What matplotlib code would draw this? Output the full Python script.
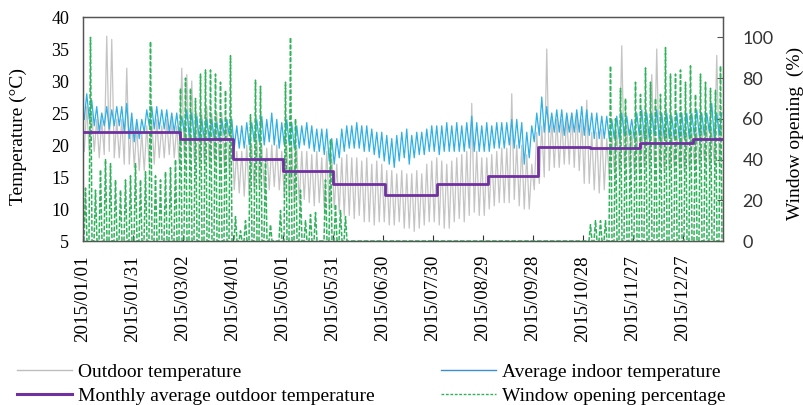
import numpy as np
import matplotlib
matplotlib.use("Agg")
import matplotlib.pyplot as plt
from matplotlib.lines import Line2D

# ---------------- data (one value pair per 3-day segment) -------------
seg_days = 3
out_hi = [26, 25, 24, 24, 37, 36.5, 24, 24, 32, 24,
          23, 22, 23, 24, 24, 23, 24, 24, 23, 32,
          31, 30, 25, 25, 26, 25, 25, 25, 24, 24,
          19, 19, 20, 20, 21, 20, 19.5, 20, 20, 19,
          20, 20, 19.5, 19, 19, 18.5, 19, 18, 19, 18.5,
          17, 18, 18.5, 18, 18, 17.5, 18, 17, 17.5, 17,
          16, 16, 15.5, 16, 15.5, 15.5, 16, 15.5, 17, 17.5,
          18, 17.5, 17, 17.5, 18, 18.5, 19, 26.5, 19, 18,
          18, 18.5, 19, 19.5, 19.5, 28, 20, 20, 18.5, 17,
          22, 23, 35, 24, 24, 24, 24.5, 25, 25, 24,
          27, 22, 22, 22.5, 21, 22, 22, 35.5, 23, 22,
          22, 22.5, 23, 31, 35, 23, 22.5, 22, 22, 22.5,
          22, 22.5, 22, 23, 23, 22.5, 34, 23]
out_lo = [19, 19, 19, 18, 18.5, 19, 18, 18, 17, 17,
          16.5, 16, 16, 17, 17, 18, 18, 18.5, 18, 17,
          18, 18, 17.5, 17, 17, 17, 17.5, 17, 16.5, 16,
          13, 12.5, 12, 12, 13, 13.5, 13, 13, 13.5, 13,
          12, 11.5, 11, 11, 11.5, 11, 10.5, 11, 10, 10,
          10, 9.5, 9, 9, 8.5, 9, 8, 8, 7.5, 8,
          8, 7.5, 7.5, 8, 7, 7, 6.5, 7, 7.5, 8,
          8, 7.5, 7, 7, 8, 8.5, 8, 9, 9.5, 9,
          9, 10, 10.5, 11, 11, 11, 11.5, 10.5, 10, 10,
          13, 14, 15, 16, 16.5, 16.5, 17, 17, 16.5, 16,
          14, 14, 13, 12.5, 13, 15, 16, 16, 16.5, 16.5,
          16, 16, 16.5, 16.5, 17, 16.5, 16, 16, 16.5, 16.5,
          16, 16.5, 17, 17, 17.5, 17, 17, 17]
in_hi = [28, 27, 26, 25, 26, 25.5, 26, 26, 26.5, 25,
         24, 24, 25.5, 26, 26, 25.5, 25.5, 25, 25, 24.5,
         25.5, 25, 24.5, 24, 24, 24, 23.5, 24, 24, 24,
         23, 23, 23.5, 23.5, 24, 24.5, 24, 25, 24, 23.5,
         24, 23.5, 23, 23, 23.5, 23, 22.5, 22.5, 22.5, 21,
         21, 22.5, 23, 23, 23.5, 23, 23, 22.5, 22, 22,
         21.5, 21, 21.5, 22, 22.5, 21.5, 22, 22, 22.5, 23,
         23, 23, 23.5, 23, 23.5, 23, 23.5, 24.5, 23.5, 23,
         23.5, 23, 23.5, 23.5, 23.5, 24, 24, 23.5, 22, 23,
         25, 27.5, 26, 25, 25.5, 25.5, 25, 25, 25.5, 26,
         25.5, 25, 25, 24.5, 24.5, 24, 24.5, 25, 24.5, 24,
         25, 25.5, 25, 25, 25.5, 25, 25, 24.5, 25, 25,
         25, 25, 25.5, 25, 25, 26.5, 25, 25]
in_lo = [24, 24, 23, 22, 23, 22.5, 23, 23, 22, 21,
         20.5, 21, 22, 23, 22.5, 22.5, 22.5, 22, 22, 21.5,
         22, 21.5, 21, 21, 21, 21, 21, 21, 21.5, 21.5,
         19.5, 19.5, 19.5, 20, 20.5, 20.5, 20, 20.5, 20, 19.5,
         20, 20, 19.5, 19.5, 20, 19.5, 19, 19, 18.5, 17.5,
         17, 18, 19, 19.5, 19.5, 19.5, 19, 19, 18.5, 18,
         17.5, 17, 16.5, 17.5, 18, 17, 18, 18.5, 18.5, 19,
         19, 18.5, 19, 19, 19, 19, 19, 19.5, 19, 19,
         19, 19, 19.5, 19.5, 19.5, 20, 19.5, 19.5, 17, 18,
         20.5, 21.5, 22, 22, 22, 22, 21.5, 22, 22, 22,
         21.5, 21.5, 21, 21, 21, 21, 21, 21, 21.5, 21.5,
         21, 21.5, 21, 21, 21.5, 21, 21, 21, 21, 21,
         21, 21, 21.5, 21.5, 21.5, 22, 21, 21.5]
window_hi = [26, 100, 25, 35, 40, 38, 30, 25, 30, 32,
             38, 30, 34, 98, 32, 30, 34, 36, 40, 75,
             80, 75, 70, 82, 84, 84, 82, 78, 74, 91,
             12, 5, 10, 62, 79, 76, 40, 8, 0, 15,
             78, 100, 60, 25, 10, 13, 14, 0, 30, 50,
             18, 15, 12, 0, 0, 0, 0, 0, 0, 0,
             0, 0, 0, 0, 0, 0, 0, 0, 0, 0,
             0, 0, 0, 0, 0, 0, 0, 0, 0, 0,
             0, 0, 0, 0, 0, 0, 0, 0, 0, 0,
             0, 0, 0, 0, 0, 0, 0, 0, 0, 0,
             0, 8, 10, 10, 10, 86, 60, 75, 70, 55,
             78, 72, 85, 78, 70, 72, 95, 82, 82, 84,
             78, 86, 72, 82, 78, 75, 74, 86]

# monthly average outdoor temperature (step start day, value)
month_start = [0, 58.2, 90, 120, 150, 181.2, 212.4, 243, 273, 304.2, 334.2, 366]
month_end_day = 384
month_avg = [22.0, 20.9, 17.8, 16.0, 13.9, 12.2, 13.9, 15.2, 19.7, 19.5, 20.3, 20.9]

tick_days = [0, 30, 60, 90, 120, 150, 180, 210, 240, 270, 300, 330, 360]
tick_labels = ["2015/01/01", "2015/01/31", "2015/03/02", "2015/04/01", "2015/05/01",
               "2015/05/31", "2015/06/30", "2015/07/30", "2015/08/29", "2015/09/28",
               "2015/10/28", "2015/11/27", "2015/12/27"]

# ---------------- build zig-zag series from the read ranges ----------------
n = len(out_hi)
seg0 = np.arange(n) * seg_days
xs = np.column_stack([seg0 + 0.75, seg0 + 2.25]).ravel()
out_series = np.column_stack([out_lo, out_hi]).ravel()
in_series = np.column_stack([in_lo, in_hi]).ravel()
xs_w = np.column_stack([seg0 + 0.6, seg0 + 1.5, seg0 + 2.4]).ravel()
win_series = np.column_stack([np.zeros(n), window_hi, np.zeros(n)]).ravel()

mx = list(month_start) + [month_end_day]
my = list(month_avg) + [month_avg[-1]]

# ---------------- figure ----------------
serif = "Liberation Serif"
fig = plt.figure(figsize=(8.04, 4.05), dpi=100)
ax = fig.add_axes([83 / 804, 1 - 241 / 405, 640 / 804, 224 / 405])

c_out = "#c4c4c4"
c_in = "#2fb0e6"
c_pur = "#7030a0"
c_win = "#2fb35a"

ax.plot(xs, out_series, color=c_out, lw=0.9, zorder=1)
ax.plot(xs, in_series, color=c_in, lw=0.9, zorder=2)
ax.set_xlim(0, month_end_day)
ax.set_ylim(5, 40)
ax.set_yticks(range(5, 41, 5))
ax.set_xticks(tick_days)
ax.set_xticklabels(tick_labels, rotation=90, fontfamily=serif, fontsize=13.6)
for lab in ax.get_yticklabels():
    lab.set_fontfamily(serif)
    lab.set_fontsize(13)
ax.tick_params(axis="both", direction="in", length=4, width=0.8, colors="#333333", labelcolor="black")
ax.tick_params(axis="y", length=0, pad=10)
ax.tick_params(axis="x", pad=10)
ax.set_ylabel("Temperature (°C)", fontfamily=serif, fontsize=14)
ax.yaxis.set_label_coords(-0.088, 0.465)
for s in ax.spines.values():
    s.set_color("#555555")
    s.set_linewidth(0.9)

ax2 = ax.twinx()
ax2.plot(xs_w, win_series, color=c_win, lw=1.1, dashes=(3, 1.2))
ax2.set_ylim(0, 110)
ax2.set_yticks(range(0, 101, 20))
ax2.tick_params(axis="y", direction="in", length=4, width=0.8, colors="#555555", labelcolor="#333333", pad=14)
for lab in ax2.get_yticklabels():
    lab.set_fontfamily("Lato")
    lab.set_fontsize(13)
ax2.set_ylabel("Window opening  (%)", fontfamily=serif, fontsize=14)
ax2.yaxis.set_label_coords(1.099, 0.48)
for s in ax2.spines.values():
    s.set_color("#555555")
    s.set_linewidth(0.9)

ax3 = ax.twinx()
ax3.step(mx, my, where="post", color=c_pur, lw=2.0)
ax3.set_ylim(5, 40)
ax3.set_xlim(0, month_end_day)
ax3.axis("off")

handles = [Line2D([], [], color="#bdbdbd", lw=1.0),
           Line2D([], [], color=c_pur, lw=2.2),
           Line2D([], [], color="#3a8fd0", lw=1.0),
           Line2D([], [], color=c_win, lw=1.0, dashes=(2, 1.2))]
labels = ["Outdoor temperature", "Monthly average outdoor temperature",
          "Average indoor temperature", "Window opening percentage"]
fig.legend(handles, labels, loc="upper left", bbox_to_anchor=(17 / 804, 1 - 363 / 405),
           ncol=2, frameon=False, prop={"family": serif, "size": 14},
           handlelength=2.85, handletextpad=0.3, columnspacing=3.4, labelspacing=0.33,
           borderaxespad=0, borderpad=0)

fig.savefig("out.png", dpi=100)
